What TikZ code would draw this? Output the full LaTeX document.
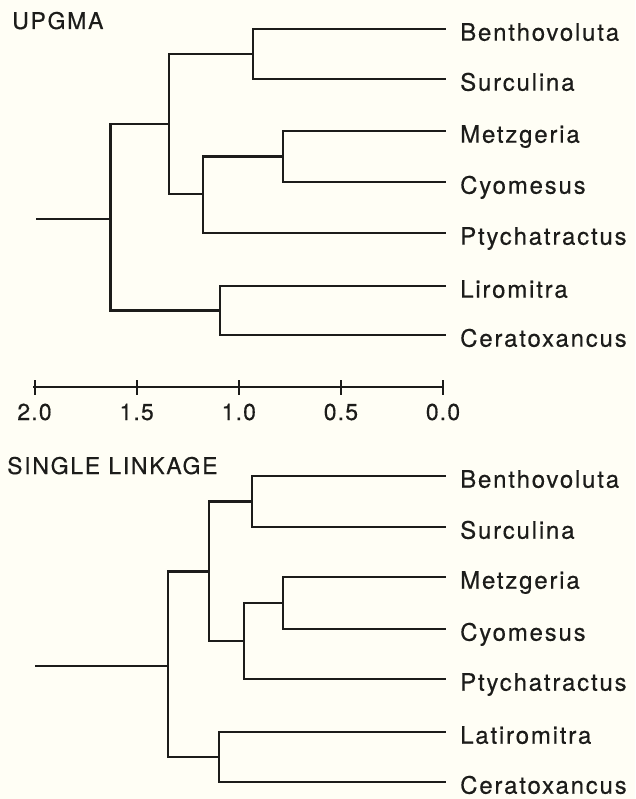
\documentclass[tikz,border=0pt]{standalone}
\usepackage{fontspec}
\setmainfont{TeX Gyre Heros}
\definecolor{bgcol}{HTML}{FFFEF5}
\definecolor{inkcol}{HTML}{1C1C1A}
\begin{document}
\begin{tikzpicture}[x=1pt,y=-1pt,
  branch/.style={draw=inkcol,line width=2.5pt,line join=miter,line cap=rect},
  taxon/.style={anchor=base west,inner sep=0pt,text=inkcol,font=\fontsize{24}{28}\selectfont\addfontfeatures{LetterSpace=7.5,FakeBold=0.4}},
  title/.style={anchor=base west,inner sep=0pt,text=inkcol,font=\fontsize{23}{27}\selectfont\addfontfeatures{LetterSpace=7.5,FakeBold=0.4}},
  ticklab/.style={anchor=base,inner sep=0pt,text=inkcol,font=\fontsize{23}{26}\selectfont\addfontfeatures{LetterSpace=5,FakeBold=0.4}}]
\fill[bgcol] (0,0) rectangle (635,799);
\useasboundingbox (0,0) rectangle (635,799);

% ---------------- UPGMA ----------------
\node[title] (t1) at (12,29) {UPGMA};
\foreach \n/\y/\t in {tB/29/Benthovoluta,tS/79/Surculina,tM/131/Metzgeria,tC/182/Cyomesus,tP/233/Ptychatractus,tL/286/Liromitra,tCe/335/Ceratoxancus}{
  \coordinate (\n) at (445,\y);
  \node[taxon] (\n-lab) at (460,\y+11.7) {\t};
}
\coordinate (tBS) at (253,54);
\coordinate (tMC) at (283,156.5);
\coordinate (tMCP) at (203,194);
\coordinate (tTop) at (169,124);
\coordinate (tLC) at (220,310.5);
\coordinate (tRoot) at (110.5,219);
\coordinate (tStart) at (37,219);

\path[branch] (tBS) |- (tB) (tBS) |- (tS)
  (tMC) |- (tM) (tMC) |- (tC)
  (tMCP) |- (tMC) (tMCP) |- (tP)
  (tTop) |- (tBS) (tTop) |- (tMCP)
  (tLC) |- (tL) (tLC) |- (tCe)
  (tRoot) |- (tTop) (tRoot) |- (tLC)
  (tStart) -- (tRoot);

% ---------------- scale ----------------
\coordinate (a0) at (34.5,387);
\coordinate (a4) at (443,387);
\path[branch] (a0) -- (a4);
\foreach \i/\x/\l in {0/34.5/2.0,1/136.6/1.5,2/238.8/1.0,3/340.9/0.5,4/443/0.0}{
  \coordinate (k\i) at (\x,387);
  \path[branch,line width=2pt] ([yshift=-6.5pt]k\i) -- ([yshift=6.5pt]k\i);
  \node[ticklab] (kl\i) at (\x,420) {\l};
}

% ---------------- SINGLE LINKAGE ----------------
\node[title] (t2) at (7,474) {SINGLE LINKAGE};
\foreach \n/\y/\t in {bB/476/Benthovoluta,bS/527/Surculina,bM/577/Metzgeria,bC/629/Cyomesus,bP/679/Ptychatractus,bL/732/Latiromitra,bCe/782/Ceratoxancus}{
  \coordinate (\n) at (445,\y);
  \node[taxon] (\n-lab) at (460,\y+11.7) {\t};
}
\coordinate (bBS) at (252,501.5);
\coordinate (bMC) at (283,603);
\coordinate (bMCP) at (244,641);
\coordinate (bTop) at (209,571.5);
\coordinate (bLC) at (219,757);
\coordinate (bRoot) at (168,666);
\coordinate (bStart) at (36,666);

\path[branch] (bBS) |- (bB) (bBS) |- (bS)
  (bMC) |- (bM) (bMC) |- (bC)
  (bMCP) |- (bMC) (bMCP) |- (bP)
  (bTop) |- (bBS) (bTop) |- (bMCP)
  (bLC) |- (bL) (bLC) |- (bCe)
  (bRoot) |- (bTop) (bRoot) |- (bLC)
  (bStart) -- (bRoot);
\end{tikzpicture}
\end{document}
